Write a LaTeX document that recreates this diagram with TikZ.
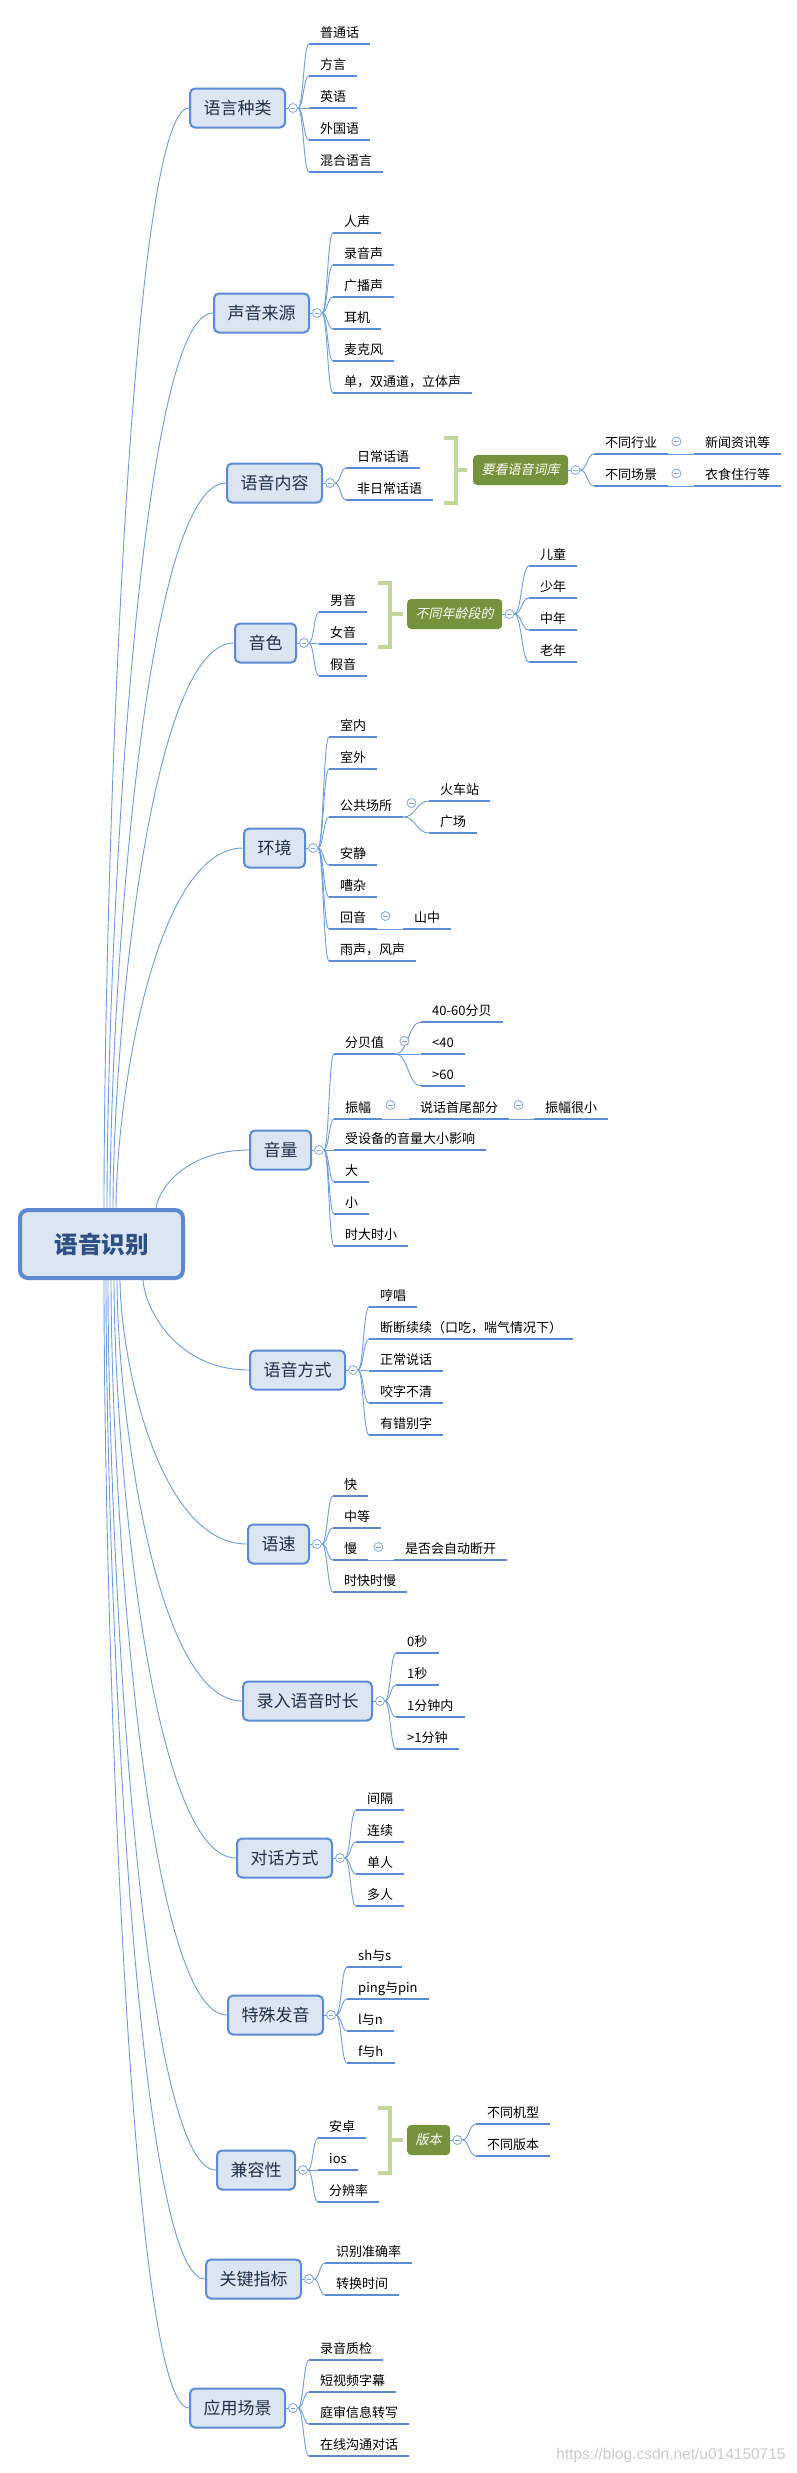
\documentclass[tikz,border=0pt]{standalone}
\usepackage{fontspec}
\setmainfont{Noto Sans CJK SC}
\newfontfamily\greenfont{Noto Sans CJK SC}[FakeSlant=0.2]
\newfontfamily\wmfont{Liberation Sans}
\usetikzlibrary{calc}
\pgfdeclarelayer{bg}
\pgfsetlayers{bg,main}
\definecolor{mainfill}{HTML}{DCE6F2}
\definecolor{mainline}{HTML}{5B8BD3}
\definecolor{ulinec}{HTML}{5A8DD6}
\definecolor{conn}{HTML}{6E9DDE}
\definecolor{btn}{HTML}{7FA6DE}
\definecolor{greenbox}{HTML}{76923C}
\definecolor{bracketc}{HTML}{C4D79B}
\definecolor{maintext}{HTML}{22304A}
\definecolor{roottext}{HTML}{2E4F84}
\tikzset{
  rootnode/.style={draw=mainline, line width=4pt, fill=mainfill, rounded corners=8pt, minimum width=163pt, minimum height=68pt, font=\fontsize{23.5pt}{24pt}\selectfont\bfseries, text=roottext},
  mainnode/.style={draw=mainline, line width=2pt, fill=mainfill, rounded corners=5pt, inner xsep=13.5pt, minimum height=39pt, font=\fontsize{17pt}{17pt}\selectfont, text=maintext, anchor=west},
  greennode/.style={fill=greenbox, rounded corners=4pt, inner xsep=8.5pt, minimum height=30pt, font=\fontsize{13pt}{13pt}\greenfont, text=white, anchor=west},
  ulinestyle/.style={draw=ulinec, line width=2.5pt},
  leaf/.style={anchor=south west, inner xsep=11pt, inner ysep=4pt, text height=11pt, text depth=2.5pt, font=\fontsize{13pt}{13pt}\selectfont, text=black,
    append after command={(\tikzlastnode.south west) edge[ulinestyle] (\tikzlastnode.south east)}},
  btnnode/.style={circle, draw=btn, line width=0.8pt, fill=white, minimum size=9pt, inner sep=0pt,
    path picture={\draw[btn, line width=0.8pt] ([xshift=2.2pt]path picture bounding box.west) -- ([xshift=-2.2pt]path picture bounding box.east);}},
  link/.style={draw=conn, line width=0.9pt},
  fan/.style={to path={let \p1=(\tikztostart), \p2=(\tikztotarget), \n1={(\x1+\x2)/2} in .. controls (\n1,\y1) and (\n1,\y2) .. (\tikztotarget)}},
  trunk/.style={to path={let \p1=(\tikztostart), \p2=(\tikztotarget), \n1={\y1+0.3*(\y2-\y1)}, \n2={\x1+0.3*(\x2-\x1)} in .. controls (\x1,\n1) and (\n2,\y2) .. (\tikztotarget)}},
  bracket/.style={draw=bracketc, line width=3.5pt},
}
\begin{document}
\begin{tikzpicture}[x=1pt,y=-1pt]
\begin{pgfonlayer}{bg}
\fill[white] (0,0) rectangle (796,2473);
\end{pgfonlayer}
\useasboundingbox (0,0) rectangle (796,2473);

% root
\node[rootnode] (root) at (101.5,1244) {语音识别};

% main topics
\node[mainnode] (m1) at (189,108) {语言种类};
\node[mainnode] (m2) at (213,313) {声音来源};
\node[mainnode] (m3) at (226,483) {语音内容};
\node[mainnode] (m4) at (234,643) {音色};
\node[mainnode] (m5) at (243,848) {环境};
\node[mainnode] (m6) at (249,1150) {音量};
\node[mainnode] (m7) at (249,1370) {语音方式};
\node[mainnode] (m8) at (247,1544) {语速};
\node[mainnode] (m9) at (242,1701) {录入语音时长};
\node[mainnode] (m10) at (236,1858) {对话方式};
\node[mainnode] (m11) at (227,2015) {特殊发音};
\node[mainnode] (m12) at (216,2170) {兼容性};
\node[mainnode] (m13) at (205,2279) {关键指标};
\node[mainnode] (m14) at (189,2408) {应用场景};
\foreach \i in {1,...,14} \node[btnnode] (c\i) at ([xshift=7pt]m\i.east) {};

% trunk start points
\coordinate (t1) at (104,1210);
\coordinate (t2) at (107,1210);
\coordinate (t3) at (110,1210);
\coordinate (t4) at (113,1210);
\coordinate (t5) at (116,1210);
\coordinate (t6) at (156,1210);
\coordinate (t7) at (143,1278);
\coordinate (t8) at (120,1278);
\coordinate (t9) at (117,1278);
\coordinate (t10) at (114,1278);
\coordinate (t11) at (111,1278);
\coordinate (t12) at (108,1278);
\coordinate (t13) at (106,1278);
\coordinate (t14) at (104,1278);

% group 1
\node[leaf] (a1) at (309,44) {普通话};
\node[leaf] (a2) at (309,76) {方言};
\node[leaf] (a3) at (309,108) {英语};
\node[leaf] (a4) at (309,140) {外国语};
\node[leaf] (a5) at (309,172) {混合语言};

% group 2
\node[leaf] (b1) at (333,233) {人声};
\node[leaf] (b2) at (333,265) {录音声};
\node[leaf] (b3) at (333,297) {广播声};
\node[leaf] (b4) at (333,329) {耳机};
\node[leaf] (b5) at (333,361) {麦克风};
\node[leaf] (b6) at (333,393) {单，双通道，立体声};

% group 3
\node[leaf] (d1) at (346,468) {日常话语};
\node[leaf] (d2) at (346,500) {非日常话语};
\draw[bracket] (444,438) -- (456,438) -- (456,503) -- (444,503);
\draw[bracket] (456,470) -- (467,470);
\node[greennode] (g3) at (473,470) {要看语音词库};
\node[btnnode] (gc3) at ([xshift=7pt]g3.east) {};
\node[leaf] (d3) at (594,454) {不同行业};
\node[leaf] (d4) at (594,486) {不同场景};
\node[btnnode] (dc3) at ([xshift=8pt,yshift=12.5pt]d3.south east) {};
\node[btnnode] (dc4) at ([xshift=8pt,yshift=12.5pt]d4.south east) {};
\node[leaf] (d5) at (694,454) {新闻资讯等};
\node[leaf] (d6) at (694,486) {衣食住行等};

% group 4
\node[leaf] (e1) at (319,612) {男音};
\node[leaf] (e2) at (319,644) {女音};
\node[leaf] (e3) at (319,676) {假音};
\draw[bracket] (378,583) -- (390,583) -- (390,647) -- (378,647);
\draw[bracket] (390,614) -- (403,614);
\node[greennode] (g4) at (407,614) {不同年龄段的};
\node[btnnode] (gc4) at ([xshift=7pt]g4.east) {};
\node[leaf] (e4) at (529,566) {儿童};
\node[leaf] (e5) at (529,598) {少年};
\node[leaf] (e6) at (529,630) {中年};
\node[leaf] (e7) at (529,662) {老年};

% group 5
\node[leaf] (f1) at (329,737) {室内};
\node[leaf] (f2) at (329,769) {室外};
\node[leaf] (f3) at (329,817) {公共场所};
\node[leaf] (f4) at (329,865) {安静};
\node[leaf] (f5) at (329,897) {嘈杂};
\node[leaf] (f6) at (329,929) {回音};
\node[leaf] (f7) at (329,961) {雨声，风声};
\node[btnnode] (fc3) at ([xshift=8pt,yshift=14pt]f3.south east) {};
\node[leaf] (f8) at (429,801) {火车站};
\node[leaf] (f9) at (429,833) {广场};
\node[btnnode] (fc6) at ([xshift=8pt,yshift=13pt]f6.south east) {};
\node[leaf] (f10) at (403,929) {山中};

% group 6
\node[leaf] (h1) at (334,1054) {分贝值};
\node[leaf] (h2) at (334,1119) {振幅};
\node[leaf] (h3) at (334,1150) {受设备的音量大小影响};
\node[leaf] (h4) at (334,1182) {大};
\node[leaf] (h5) at (334,1214) {小};
\node[leaf] (h6) at (334,1246) {时大时小};
\node[btnnode] (hc1) at ([xshift=9pt,yshift=13pt]h1.south east) {};
\node[leaf] (h7) at (421,1022) {40-60分贝};
\node[leaf] (h8) at (421,1054) {<40};
\node[leaf] (h9) at (421,1086) {>60};
\node[btnnode] (hc2) at ([xshift=8pt,yshift=14pt]h2.south east) {};
\node[leaf] (h10) at (409,1119) {说话首尾部分};
\node[btnnode] (hc10) at ([xshift=9pt,yshift=14pt]h10.south east) {};
\node[leaf] (h11) at (534,1119) {振幅很小};

% group 7
\node[leaf] (i1) at (369,1307) {哼唱};
\node[leaf] (i2) at (369,1339) {断断续续（口吃，喘气情况下）};
\node[leaf] (i3) at (369,1371) {正常说话};
\node[leaf] (i4) at (369,1403) {咬字不清};
\node[leaf] (i5) at (369,1435) {有错别字};

% group 8
\node[leaf] (j1) at (333,1496) {快};
\node[leaf] (j2) at (333,1528) {中等};
\node[leaf] (j3) at (333,1560) {慢};
\node[leaf] (j4) at (333,1592) {时快时慢};
\node[btnnode] (jc3) at ([xshift=10pt,yshift=13pt]j3.south east) {};
\node[leaf] (j5) at (394,1560) {是否会自动断开};

% group 9
\node[leaf] (k1) at (396,1653) {0秒};
\node[leaf] (k2) at (396,1685) {1秒};
\node[leaf] (k3) at (396,1717) {1分钟内};
\node[leaf] (k4) at (396,1749) {>1分钟};

% group 10
\node[leaf] (n1) at (356,1810) {间隔};
\node[leaf] (n2) at (356,1842) {连续};
\node[leaf] (n3) at (356,1874) {单人};
\node[leaf] (n4) at (356,1906) {多人};

% group 11
\node[leaf] (p1) at (347,1967) {sh与s};
\node[leaf] (p2) at (347,1999) {ping与pin};
\node[leaf] (p3) at (347,2031) {l与n};
\node[leaf] (p4) at (347,2063) {f与h};

% group 12
\node[leaf] (q1) at (318,2138) {安卓};
\node[leaf] (q2) at (318,2170) {ios};
\node[leaf] (q3) at (318,2202) {分辨率};
\draw[bracket] (378,2108) -- (390,2108) -- (390,2173) -- (378,2173);
\draw[bracket] (390,2140) -- (403,2140);
\node[greennode] (g12) at (407,2140) {版本};
\node[btnnode] (gc12) at ([xshift=7pt]g12.east) {};
\node[leaf] (q4) at (476,2124) {不同机型};
\node[leaf] (q5) at (476,2156) {不同版本};

% group 13
\node[leaf] (r1) at (325,2263) {识别准确率};
\node[leaf] (r2) at (325,2295) {转换时间};

% group 14
\node[leaf] (s1) at (309,2360) {录音质检};
\node[leaf] (s2) at (309,2392) {短视频字幕};
\node[leaf] (s3) at (309,2424) {庭审信息转写};
\node[leaf] (s4) at (309,2456) {在线沟通对话};

% watermark
\node[font=\fontsize{15.5pt}{16pt}\wmfont, text=gray!40] (wm) at (671,2455) {https://blog.csdn.net/u014150715};

\begin{pgfonlayer}{bg}
\foreach \i in {1,...,14} {
  \draw[link] (t\i) to[trunk] (m\i.west);
  \draw[link] (m\i.east) -- (c\i.west);
}
\foreach \l in {a1,a2,a3,a4,a5} \draw[link] (c1.east) to[fan] (\l.south west);
\foreach \l in {b1,b2,b3,b4,b5,b6} \draw[link] (c2.east) to[fan] (\l.south west);
\foreach \l in {d1,d2} \draw[link] (c3.east) to[fan] (\l.south west);
\draw[link] (g3.east) -- (gc3.west);
\foreach \l in {d3,d4} \draw[link] (gc3.east) to[fan] (\l.south west);
\draw[link] (d3.south east) -- (d5.south west);
\draw[link] (d4.south east) -- (d6.south west);
\foreach \l in {e1,e2,e3} \draw[link] (c4.east) to[fan] (\l.south west);
\draw[link] (g4.east) -- (gc4.west);
\foreach \l in {e4,e5,e6,e7} \draw[link] (gc4.east) to[fan] (\l.south west);
\foreach \l in {f1,f2,f3,f4,f5,f6,f7} \draw[link] (c5.east) to[fan] (\l.south west);
\foreach \l in {f8,f9} \draw[link] (f3.south east) to[fan] (\l.south west);
\draw[link] (f6.south east) -- (f10.south west);
\foreach \l in {h1,h2,h3,h4,h5,h6} \draw[link] (c6.east) to[fan] (\l.south west);
\foreach \l in {h7,h8,h9} \draw[link] (h1.south east) to[fan] (\l.south west);
\draw[link] (h2.south east) -- (h10.south west);
\draw[link] (h10.south east) -- (h11.south west);
\foreach \l in {i1,i2,i3,i4,i5} \draw[link] (c7.east) to[fan] (\l.south west);
\foreach \l in {j1,j2,j3,j4} \draw[link] (c8.east) to[fan] (\l.south west);
\draw[link] (j3.south east) -- (j5.south west);
\foreach \l in {k1,k2,k3,k4} \draw[link] (c9.east) to[fan] (\l.south west);
\foreach \l in {n1,n2,n3,n4} \draw[link] (c10.east) to[fan] (\l.south west);
\foreach \l in {p1,p2,p3,p4} \draw[link] (c11.east) to[fan] (\l.south west);
\foreach \l in {q1,q2,q3} \draw[link] (c12.east) to[fan] (\l.south west);
\draw[link] (g12.east) -- (gc12.west);
\foreach \l in {q4,q5} \draw[link] (gc12.east) to[fan] (\l.south west);
\foreach \l in {r1,r2} \draw[link] (c13.east) to[fan] (\l.south west);
\foreach \l in {s1,s2,s3,s4} \draw[link] (c14.east) to[fan] (\l.south west);
\end{pgfonlayer}
\end{tikzpicture}
\end{document}
